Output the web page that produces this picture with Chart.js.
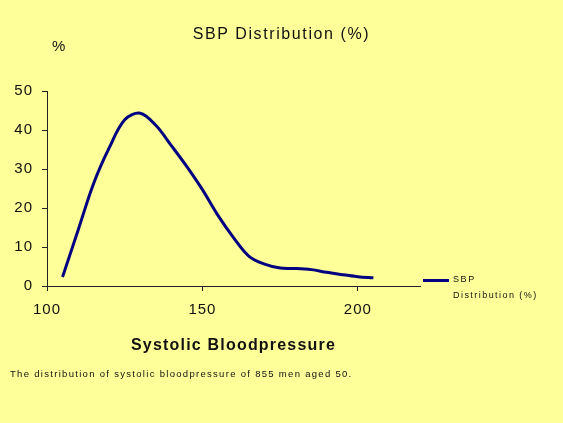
<!DOCTYPE html>
<html>
<head>
<meta charset="utf-8">
<script src="https://cdn.jsdelivr.net/npm/chart.js@4"></script>
<style>
  html, body { margin: 0; padding: 0; background: #ffff99; }
  #wrap { position: relative; width: 563px; height: 423px; background: #ffff99; overflow: hidden;
          font-family: "Liberation Sans", Arial, sans-serif; color: #111; }
  canvas { position: absolute; left: 0; top: 0; }
  .t { position: absolute; white-space: nowrap; line-height: 1; }
  #title { left: 0; width: 563px; text-align: center; top: 26px; font-size: 16px; letter-spacing: 1.6px; }
  #pct { left: 52px; top: 38px; font-size: 15px; }
  #xtitle { left: 47px; width: 373px; text-align: center; top: 337px; font-size: 16px; font-weight: bold; letter-spacing: 1.2px; }
  #caption { left: 10px; top: 369px; font-size: 9.5px; letter-spacing: 1.3px; }
  #legline { position: absolute; left: 423px; top: 279px; width: 26px; height: 3px; background: #000080; }
  #leg1 { left: 453px; top: 275px; font-size: 9px; letter-spacing: 1.6px; }
  #leg2 { left: 453px; top: 291px; font-size: 9px; letter-spacing: 1.45px; }
</style>
</head>
<body>
<div id="wrap">
  <canvas id="c" width="563" height="423"></canvas>
  <div class="t" id="title">SBP Distribution (%)</div>
  <div class="t" id="pct">%</div>
  <div class="t" id="xtitle">Systolic Bloodpressure</div>
  <div class="t" id="caption">The distribution of systolic bloodpressure of 855 men aged 50.</div>
  <div id="legline"></div>
  <div class="t" id="leg1">SBP</div>
  <div class="t" id="leg2">Distribution (%)</div>
</div>
<script>
// ── data ─────────────────────────────────────────────
const SBP = [105, 110, 115, 120, 125, 130, 135, 140, 145, 150, 155,
             160, 165, 170, 175, 180, 185, 190, 195, 200, 205];
const PCT = [2.3, 14.3, 26.3, 35.4, 42.6, 44.3, 41.2, 36.0, 30.6, 24.7, 18.1,
             12.4, 7.6, 5.6, 4.6, 4.5, 4.2, 3.5, 2.9, 2.4, 2.1];
const X_TICKS = [100, 150, 200];
const Y_TICKS = [0, 10, 20, 30, 40, 50];

const AXIS_COL = "#222";
const FONT = "'Liberation Sans', Arial, sans-serif";

const spacing = {
  id: "spacing",
  beforeDraw(chart) { chart.ctx.letterSpacing = "1px"; },
};

new Chart(document.getElementById("c"), {
  type: "line",
  data: {
    datasets: [{
      label: "SBP Distribution (%)",
      data: SBP.map((x, i) => ({ x, y: PCT[i] })),
      borderColor: "#000080",
      borderWidth: 3,
      pointRadius: 0,
      tension: 0.35,
      fill: false,
    }],
  },
  options: {
    responsive: false,
    animation: false,
    layout: { padding: { left: 0, top: 91, right: 143, bottom: 97 } },
    plugins: { legend: { display: false }, tooltip: { enabled: false } },
    scales: {
      x: {
        type: "linear",
        min: 100,
        max: 220,
        afterFit: (s) => { s.height = 40; },
        afterBuildTicks: (s) => { s.ticks = X_TICKS.map((v) => ({ value: v })); },
        border: { color: AXIS_COL, width: 1 },
        grid: { drawOnChartArea: false, tickLength: 5, color: AXIS_COL },
        ticks: { color: "#111", font: { family: FONT, size: 15 }, padding: 10, maxRotation: 0 },
      },
      y: {
        min: 0,
        max: 50,
        afterFit: (s) => { s.width = 47; },
        afterBuildTicks: (s) => { s.ticks = Y_TICKS.map((v) => ({ value: v })); },
        border: { color: AXIS_COL, width: 1 },
        grid: { drawOnChartArea: false, tickLength: 5, color: AXIS_COL },
        ticks: { color: "#111", font: { family: FONT, size: 15 }, padding: 9 },
      },
    },
  },
  plugins: [spacing],
});
</script>
</body>
</html>
